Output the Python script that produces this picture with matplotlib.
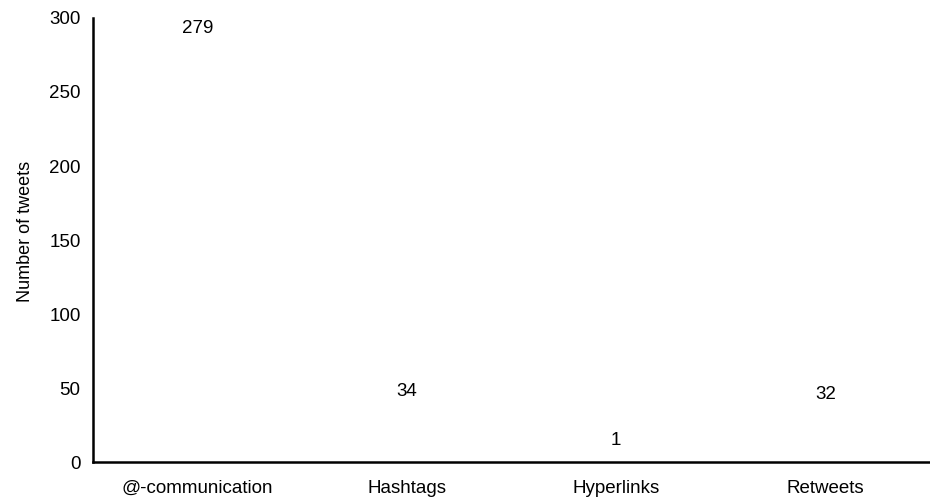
import matplotlib
matplotlib.use("Agg")
import matplotlib.pyplot as plt

categories = ["@-communication", "Hashtags", "Hyperlinks", "Retweets"]
values = [279, 34, 1, 32]
yticks = [0, 50, 100, 150, 200, 250, 300]

plt.rcParams['font.family'] = ['Liberation Sans', 'DejaVu Sans']

fig = plt.figure(figsize=(9.3, 4.99), dpi=100)
ax = fig.add_axes([0.1, 0.074, 0.9, 0.89])

x = range(len(categories))
bars = ax.bar(x, values, width=0.6, color="white", edgecolor="none")
for xi, v in zip(x, values):
    ax.annotate(str(v), (xi, v), xytext=(0, 8.5), textcoords="offset points",
                ha="center", va="bottom", fontsize=13.5, color="black")

ax.set_xlim(-0.5, len(categories) - 0.5)
ax.set_ylim(0, 300)
ax.set_yticks(yticks)
ax.set_xticks(list(x))
ax.set_xticklabels(categories, fontsize=13.5)
ax.tick_params(axis='y', length=0, labelsize=13.5, pad=9)
ax.tick_params(axis='x', length=0, labelsize=13.5, pad=13)
ax.set_ylabel("Number of tweets", fontsize=13)
ax.yaxis.set_label_coords(-0.07, 0.52)
for s in ["top", "right"]:
    ax.spines[s].set_visible(False)
ax.spines["left"].set_linewidth(1.8)
ax.spines["bottom"].set_linewidth(1.8)

fig.savefig("out.png", dpi=100)
